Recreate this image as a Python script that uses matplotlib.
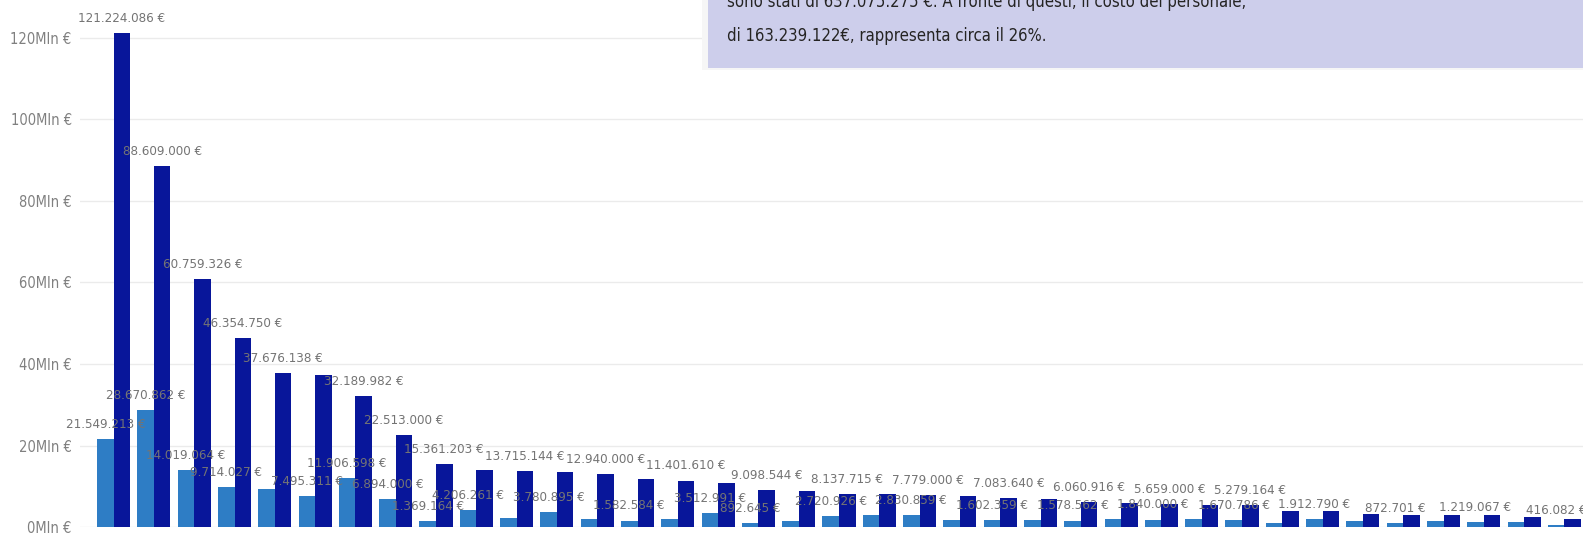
import matplotlib
matplotlib.use("Agg")
import matplotlib.pyplot as plt
from matplotlib import font_manager as fm
from matplotlib.patches import Rectangle
from matplotlib.ticker import FuncFormatter
import numpy as np

# ---------------- data ----------------
categories = list(range(37))
costo_personale = [21549213, 28670862, 14019064, 9714027, 9300000, 7495311, 11906598,
                   6894000, 1369164, 4206261, 2300000, 3780895, 2000000, 1582584,
                   2000000, 3512991, 892645, 1400000, 2720926, 2900000, 2830859,
                   1600000, 1602359, 1600000, 1578562, 2000000, 1840000, 2000000,
                   1670786, 1100000, 1912790, 1400000, 872701, 1400000, 1219067,
                   1200000, 416082]
costi_totali = [121224086, 88609000, 60759326, 46354750, 37676138, 37200000, 32189982,
                22513000, 15361203, 13900000, 13715144, 13400000, 12940000, 11900000,
                11401610, 10800000, 9098544, 8800000, 8137715, 8000000, 7779000,
                7500000, 7083640, 6900000, 6060916, 5900000, 5659000, 5450000,
                5279164, 4000000, 3900000, 3300000, 3000000, 2950000, 2850000,
                2500000, 1900000]
# which data labels are visible in the original chart
light_labelled = [0, 1, 2, 3, 5, 6, 7, 8, 9, 11, 13, 15, 16, 18, 20, 22, 24, 26, 28,
                  30, 32, 34, 36]
dark_labelled = [0, 1, 2, 3, 4, 6, 7, 8, 10, 12, 14, 16, 18, 20, 22, 24, 26, 28]
y_ticks = [0, 20e6, 40e6, 60e6, 80e6, 100e6, 120e6]
box_lines = ["sono stati di 637.075.275 €. A fronte di questi, il costo del personale,",
             "di 163.239.122€, rappresenta circa il 26%."]

# ---------------- fonts ----------------
def pick_font():
    names = {(f.name, f.stretch) for f in fm.fontManager.ttflist}
    for n, s in names:
        if n == "Liberation Sans Narrow":
            return {"family": "Liberation Sans Narrow"}
    for n, s in names:
        if n == "DejaVu Sans Condensed":
            return {"family": "DejaVu Sans Condensed"}
    for n, s in names:
        if n == "DejaVu Sans" and s == "condensed":
            return {"family": "DejaVu Sans", "stretch": "condensed"}
    return {"family": "DejaVu Sans"}

cf = pick_font()

W, H = 1583, 534
fig = plt.figure(figsize=(W / 100, H / 100), dpi=100)
fig.patch.set_facecolor("white")

left_px, base_px = 80, 527
ax = fig.add_axes([left_px / W, (H - base_px) / H, (W - left_px) / W, base_px / H])
px_per_unit = 489 / 120e6
ax.set_ylim(0, base_px / px_per_unit)
ax.set_xlim(-0.834, -0.834 + (W - left_px) / 40.3)

x = np.arange(len(categories))
bw = 0.41
light_c = "#2E7DC5"
dark_c = "#08169A"
ax.bar(x - bw / 2, costo_personale, width=bw, color=light_c, zorder=2)
ax.bar(x + bw / 2, costi_totali, width=bw, color=dark_c, zorder=2)

def fmt_eur(v):
    return f"{v:,.0f}".replace(",", ".") + " €"

for i in light_labelled:
    ax.annotate(fmt_eur(costo_personale[i]), (x[i] - bw / 2, costo_personale[i]),
                xytext=(0, 10.5), textcoords="offset points", ha="center", va="center",
                fontsize=9.5, color="#747474", zorder=4, **cf)
for i in dark_labelled:
    ax.annotate(fmt_eur(costi_totali[i]), (x[i] + bw / 2, costi_totali[i]),
                xytext=(0, 10.5), textcoords="offset points", ha="center", va="center",
                fontsize=9.5, color="#747474", zorder=4, **cf)

ax.set_yticks(y_ticks)
ax.yaxis.set_major_formatter(FuncFormatter(lambda v, p: f"{int(round(v / 1e6))}Mln €"))
ax.tick_params(axis="y", length=0, pad=6, labelsize=10.5, labelcolor="#808080")
for lab in ax.get_yticklabels():
    lab.set_fontproperties(fm.FontProperties(size=10.5, **cf))
ax.set_xticks([])
ax.grid(axis="y", color="#ebebeb", linewidth=1, zorder=0)
ax.set_axisbelow(True)
for s in ax.spines.values():
    s.set_visible(False)

# ---------------- text box overlay ----------------
bx0, by1 = 708, 68
fig.patches.append(Rectangle(((bx0 - 6) / W, 1 - (by1 + 2) / H), (W - bx0 + 20) / W,
                             (by1 + 10) / H, transform=fig.transFigure,
                             facecolor="#f6f6f6", edgecolor="none", zorder=5))
fig.patches.append(Rectangle((bx0 / W, 1 - by1 / H), (W - bx0 + 10) / W, (by1 + 5) / H,
                             transform=fig.transFigure, facecolor="#CBCCEB",
                             edgecolor="none", alpha=0.95, zorder=6))
fig.text(727 / W, 1 - 7 / H, box_lines[0], ha="left", va="baseline", fontsize=12,
         color="#252423", zorder=7, **cf)
fig.text(727 / W, 1 - 41 / H, box_lines[1], ha="left", va="baseline", fontsize=12,
         color="#252423", zorder=7, **cf)

fig.savefig("out.png", dpi=100)
